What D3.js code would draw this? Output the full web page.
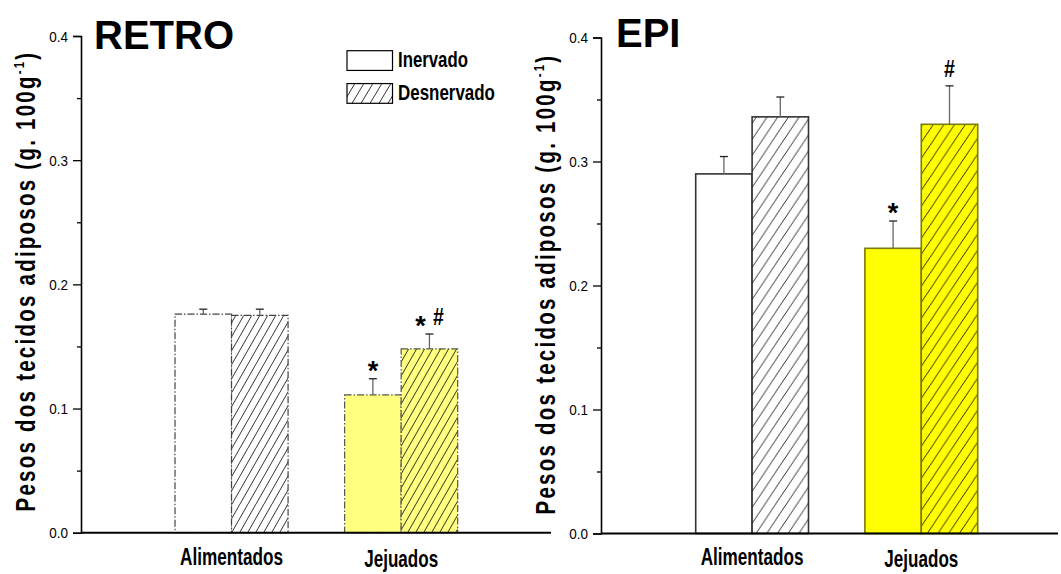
<!DOCTYPE html>
<html>
<head>
<meta charset="utf-8">
<script src="https://cdn.jsdelivr.net/npm/d3@7"></script>
<style>
  html, body { margin: 0; padding: 0; background: #fff; }
  svg { display: block; }
  text { font-family: "Liberation Sans", Arial, sans-serif; }
</style>
</head>
<body>
<svg id="chart" width="1061" height="574"></svg>
<script>
// Groups and series
const categories = ["Alimentados", "Jejuados"];
const series = ["Inervado", "Desnervado"];

// Adipose tissue weights (g·100g⁻¹), retroperitoneal depot
const retroMeans = [0.176, 0.175, 0.111, 0.148];   // Alim-In, Alim-Des, Jej-In, Jej-Des
const retroErrors = [0.004, 0.005, 0.013, 0.012];
const retroMarks = ["", "", "*", "* #"];

// Epididymal depot
const epiMeans = [0.290, 0.336, 0.230, 0.330];
const epiErrors = [0.014, 0.016, 0.022, 0.031];
const epiMarks = ["", "", "*", "#"];

// Axis ticks
const majorTicks = [0.0, 0.1, 0.2, 0.3, 0.4];
const minorTicks = [0.05, 0.15, 0.25, 0.35];

const yTitle = "Pesos dos tecidos adiposos (g. 100g";

const svg = d3.select("#chart");
const defs = svg.append("defs");

// Squeeze a text horizontally (in its own frame) to a given width or factor
function condense(sel, opts) {
  sel.each(function() {
    const t = d3.select(this);
    const x = +t.attr("x") || 0, y = +t.attr("y") || 0;
    const rot = opts.rotate || 0;
    const w = this.getComputedTextLength();
    const k = opts.width ? opts.width / w : opts.k;
    t.attr("x", 0).attr("y", 0)
      .attr("transform", `translate(${x},${y}) rotate(${rot}) scale(${k},1)`);
  });
}

function hatch(id, w, h, sw) {
  const p = defs.append("pattern")
    .attr("id", id).attr("patternUnits", "userSpaceOnUse")
    .attr("width", w).attr("height", h);
  [[0, h, w, 0], [-w, h, 0, 0], [w, h, 2 * w, 0]].forEach(([x1, y1, x2, y2]) => {
    p.append("line").attr("x1", x1).attr("y1", y1).attr("x2", x2).attr("y2", y2)
      .attr("stroke", "#000").attr("stroke-width", sw);
  });
}
hatch("hatchRetro", 8, 14, 0.8);
hatch("hatchEpi", 10.7, 16, 0.8);
hatch("hatchLegend", 9, 15, 0.8);

function panel(cfg) {
  const g = svg.append("g");
  const y = d3.scaleLinear().domain([0, 0.4]).range([cfg.y0, cfg.y1]);
  const x = d3.scaleBand().domain(categories).range([cfg.barL, cfg.barR]).paddingInner(1 / 3).paddingOuter(0);
  const xs = d3.scaleBand().domain(series).range([0, x.bandwidth()]);

  const rows = [];
  categories.forEach((c, ci) => series.forEach((s, si) => {
    const i = ci * 2 + si;
    rows.push({ c, s, ci, si, v: cfg.means[i], e: cfg.errors[i], m: cfg.marks[i] });
  }));

  const bx = d => x(d.c) + xs(d.s);
  const bars = g.selectAll("g.bar").data(rows).join("g").attr("class", "bar");
  // base fill
  bars.append("rect")
    .attr("x", bx).attr("y", d => y(d.v))
    .attr("width", xs.bandwidth()).attr("height", d => y(0) - y(d.v))
    .attr("fill", d => d.ci === 1 ? cfg.yellow : "#fff");
  // hatching for denervated tissue
  bars.filter(d => d.si === 1).append("rect")
    .attr("x", bx).attr("y", d => y(d.v))
    .attr("width", xs.bandwidth()).attr("height", d => y(0) - y(d.v))
    .attr("fill", `url(#${cfg.hatch})`);
  // outline
  bars.append("rect")
    .attr("x", bx).attr("y", d => y(d.v))
    .attr("width", xs.bandwidth()).attr("height", d => y(0) - y(d.v))
    .attr("fill", "none")
    .attr("stroke", d => d.ci === 1 ? cfg.yellowStroke : cfg.stroke)
    .attr("stroke-width", cfg.strokeWidth)
    .attr("stroke-dasharray", cfg.dash);

  // error bars (upper half)
  const cx = d => bx(d) + xs.bandwidth() / 2;
  bars.append("line")
    .attr("x1", cx).attr("x2", cx)
    .attr("y1", d => y(d.v)).attr("y2", d => y(d.v + d.e))
    .attr("stroke", "#666").attr("stroke-width", 1.3);
  bars.append("line")
    .attr("x1", d => cx(d) - 4).attr("x2", d => cx(d) + 4)
    .attr("y1", d => y(d.v + d.e)).attr("y2", d => y(d.v + d.e))
    .attr("stroke", "#222").attr("stroke-width", 1.3);

  // significance marks (* vs fed, # vs innervated)
  bars.filter(d => d.m).each(function(d) {
    const toks = d.m.split(" ");
    toks.forEach((tok, k) => {
      const off = toks.length > 1 ? (k === 0 ? -9 : 9) : 0;
      const top = y(d.v + d.e);
      d3.select(this).append("text")
        .attr("x", cx(d) + off)
        .attr("y", tok === "*" ? top + 1 : top - 9)
        .attr("text-anchor", "middle")
        .attr("font-weight", "bold")
        .attr("font-size", tok === "*" ? 27 : 23)
        .text(tok)
        .call(condense, { k: tok === "#" ? 0.85 : 1 });
    });
  });

  // y axis
  const yAxis = g.append("g").attr("transform", `translate(${cfg.axisX},0)`)
    .call(d3.axisLeft(y).tickValues(majorTicks).tickSize(8).tickPadding(5).tickFormat(d3.format(".1f")));
  yAxis.select(".domain").attr("stroke", "#000").attr("stroke-width", 1.6);
  yAxis.selectAll(".tick line").attr("stroke", "#000").attr("stroke-width", 1.3);
  yAxis.selectAll(".tick text")
    .attr("font-family", "Liberation Sans, Arial, sans-serif")
    .attr("font-size", 15).attr("fill", "#000").attr("dy", "0.35em")
    .attr("x", -13).attr("text-anchor", "end")
    .call(condense, { k: 0.9 });
  g.append("g").attr("transform", `translate(${cfg.axisX},0)`)
    .call(d3.axisLeft(y).tickValues(minorTicks).tickSize(4).tickFormat(""))
    .call(a => a.select(".domain").remove())
    .selectAll(".tick line").attr("stroke", "#000").attr("stroke-width", 1.3);

  // x axis baseline and group labels
  g.append("line")
    .attr("x1", cfg.axisX).attr("x2", cfg.xEnd)
    .attr("y1", y(0)).attr("y2", y(0))
    .attr("stroke", "#000").attr("stroke-width", 2);
  const catW = [103, 74];
  g.selectAll("text.cat").data(categories).join("text")
    .attr("class", "cat")
    .attr("x", d => x(d) + x.bandwidth() / 2)
    .attr("y", (d, i) => i === 0 ? 565 : 567)
    .attr("text-anchor", "middle")
    .attr("font-size", 23).attr("font-weight", "bold")
    .text(d => d)
    .each(function(d, i) { d3.select(this).call(condense, { width: catW[i] }); });

  // y axis title
  const tt = g.append("text")
    .attr("x", cfg.axisX - 46).attr("y", cfg.titleMid)
    .attr("text-anchor", "middle")
    .attr("font-size", 27).attr("font-weight", "bold")
    .attr("letter-spacing", 3);
  tt.append("tspan").text(yTitle);
  tt.append("tspan").attr("font-size", 15).attr("dy", -11).text("-1");
  tt.append("tspan").attr("dy", 11).text(")");
  tt.call(condense, { width: 461, rotate: -90 });

  // panel title
  g.append("text")
    .attr("x", cfg.titleX).attr("y", cfg.titleY)
    .attr("font-size", 40).attr("font-weight", "bold")
    .text(cfg.title);

  return { g, y };
}

panel({
  title: "RETRO", titleX: 94, titleY: 49,
  means: retroMeans, errors: retroErrors, marks: retroMarks,
  y0: 532.7, y1: 36, axisX: 81, xEnd: 551, barL: 175, barR: 457.7,
  yellow: "#ffff80", yellowStroke: "#555", stroke: "#444", strokeWidth: 1.2,
  dash: "7,2,1.5,2", hatch: "hatchRetro", titleMid: 281
});

panel({
  title: "EPI", titleX: 616, titleY: 47,
  means: epiMeans, errors: epiErrors, marks: epiMarks,
  y0: 533.5, y1: 37.5, axisX: 601, xEnd: 1058, barL: 695.7, barR: 977.7,
  yellow: "#ffff00", yellowStroke: "#7a7a10", stroke: "#333", strokeWidth: 1.6,
  dash: null, hatch: "hatchEpi", titleMid: 284
});

// legend
const legend = svg.append("g");
const legY = d3.scaleBand().domain(series).range([50.7, 103.3]).paddingInner(0.4);
legend.selectAll("rect.box").data(series).join("rect")
  .attr("class", "box")
  .attr("x", 347).attr("y", d => legY(d))
  .attr("width", 45.5).attr("height", legY.bandwidth())
  .attr("fill", (d, i) => i === 1 ? "url(#hatchLegend)" : "#fff")
  .attr("stroke", "#000").attr("stroke-width", 1.2);
const legW = [70, 97];
legend.selectAll("text").data(series).join("text")
  .attr("x", 398).attr("y", d => legY(d) + legY.bandwidth() - 3)
  .attr("font-size", 22).attr("font-weight", "bold")
  .text(d => d)
  .each(function(d, i) { d3.select(this).call(condense, { width: legW[i] }); });
</script>
</body>
</html>
